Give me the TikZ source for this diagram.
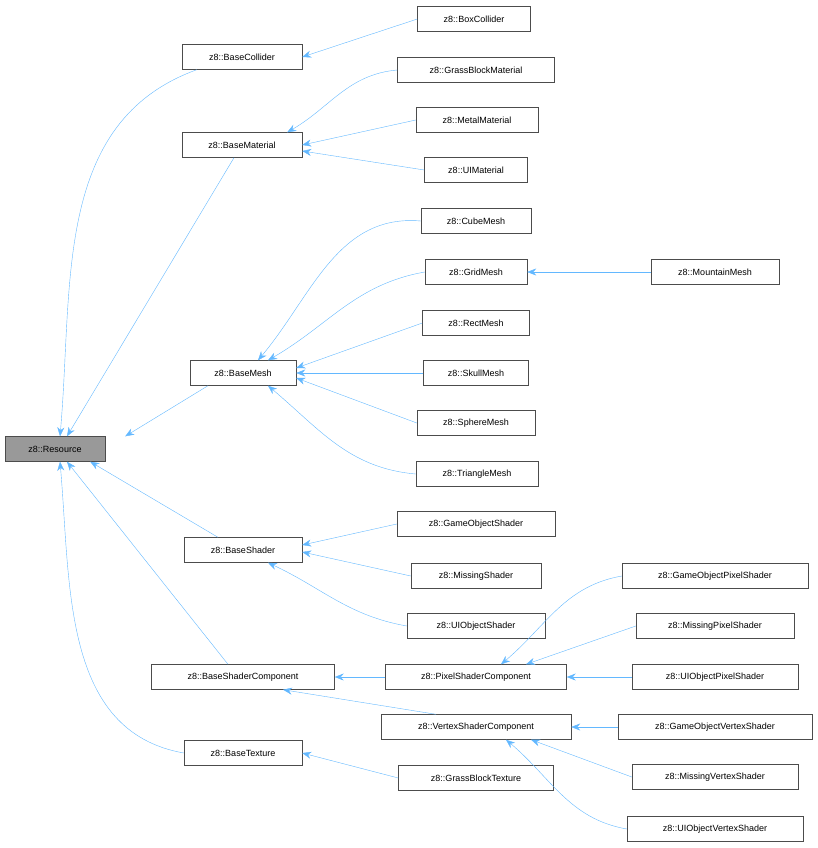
\documentclass[tikz,border=0pt]{standalone}
\usepackage{fontspec}
\setmainfont{Liberation Sans}
\usetikzlibrary{arrows.meta}
\definecolor{edgeblue}{RGB}{99,184,255}
\definecolor{boxgray}{RGB}{153,153,153}

\begin{document}
\begin{tikzpicture}[x=1pt, y=-1pt,
        cls/.style={rectangle, draw=black!70, fill=white, minimum height=25pt, inner xsep=6pt, font=\fontsize{9}{10}\selectfont},
        inh/.style={-{Stealth[length=9pt,width=7pt]}, edgeblue, thin}
    ]
    \useasboundingbox (0,0) rectangle (818,848);
    % root
    \node[cls, fill=boxgray, minimum width=100pt] (resource) at (55,449) {z8::Resource};
    % first level
    \node[cls, minimum width=120pt] (collider) at (242,57) {z8::BaseCollider};
    \node[cls, minimum width=120pt] (material) at (242,145) {z8::BaseMaterial};
    \node[cls, minimum width=106pt] (mesh) at (243,373) {z8::BaseMesh};
    \node[cls, minimum width=118pt] (shader) at (243,550) {z8::BaseShader};
    \node[cls, minimum width=183pt] (shadercomp) at (243,677) {z8::BaseShaderComponent};
    \node[cls, minimum width=118pt] (texture) at (243,753) {z8::BaseTexture};
    % second level
    \node[cls, minimum width=113pt] (boxcol) at (474,19) {z8::BoxCollider};
    \node[cls, minimum width=157pt] (grassmat) at (476,70) {z8::GrassBlockMaterial};
    \node[cls, minimum width=122pt] (metalmat) at (477,120) {z8::MetalMaterial};
    \node[cls, minimum width=103pt] (uimat) at (476,170) {z8::UIMaterial};
    \node[cls, minimum width=110pt] (cube) at (476,221) {z8::CubeMesh};
    \node[cls, minimum width=102pt] (grid) at (476,272) {z8::GridMesh};
    \node[cls, minimum width=107pt] (rect) at (476,323) {z8::RectMesh};
    \node[cls, minimum width=105pt] (skull) at (476,373) {z8::SkullMesh};
    \node[cls, minimum width=118pt] (sphere) at (476,423) {z8::SphereMesh};
    \node[cls, minimum width=122pt] (triangle) at (477,474) {z8::TriangleMesh};
    \node[cls, minimum width=158pt] (goshader) at (476,524) {z8::GameObjectShader};
    \node[cls, minimum width=130pt] (missshader) at (476,576) {z8::MissingShader};
    \node[cls, minimum width=138pt] (uishader) at (476,626) {z8::UIObjectShader};
    \node[cls, minimum width=181pt] (pixelcomp) at (476,677) {z8::PixelShaderComponent};
    \node[cls, minimum width=190pt] (vertexcomp) at (476,727) {z8::VertexShaderComponent};
    \node[cls, minimum width=155pt] (grasstex) at (476,778) {z8::GrassBlockTexture};
    % third level
    \node[cls, minimum width=128pt] (mountain) at (715,272) {z8::MountainMesh};
    \node[cls, minimum width=186pt] (gopixel) at (715,576) {z8::GameObjectPixelShader};
    \node[cls, minimum width=158pt] (misspixel) at (715,626) {z8::MissingPixelShader};
    \node[cls, minimum width=166pt] (uipixel) at (715,677) {z8::UIObjectPixelShader};
    \node[cls, minimum width=194pt] (govertex) at (715,727) {z8::GameObjectVertexShader};
    \node[cls, minimum width=166pt] (missvertex) at (715,777) {z8::MissingVertexShader};
    \node[cls, minimum width=176pt] (uivertex) at (715,829) {z8::UIObjectVertexShader};

    % inheritance to root
    \draw[inh] (collider.south west) ++(15,0) to[out=200,in=85] ([xshift=5pt]resource.north);
    \draw[inh] ([xshift=-8pt]material.south) -- ([xshift=12pt]resource.north);
    \draw[inh] ([xshift=-35pt]mesh.south) -- ([xshift=20pt]resource.north east);
    \draw[inh] ([xshift=-25pt]shader.north) -- ([xshift=-15pt]resource.south east);
    \draw[inh] ([xshift=-15pt]shadercomp.north) -- ([xshift=12pt]resource.south);
    \draw[inh] (texture.west) to[out=170,in=-85] ([xshift=5pt]resource.south);
    % colliders, materials
    \draw[inh] (boxcol.west) -- (collider.east);
    \draw[inh] (grassmat.west) to[out=185,in=30] ([xshift=-15pt]material.north east);
    \draw[inh] (metalmat.west) -- (material.east);
    \draw[inh] (uimat.west) -- ([yshift=-6pt]material.east);
    % meshes
    \draw[inh] (cube.west) to[out=175,in=50] ([xshift=15pt]mesh.north);
    \draw[inh] (grid.west) to[out=190,in=30] ([xshift=25pt]mesh.north);
    \draw[inh] (rect.west) -- ([yshift=5pt]mesh.east);
    \draw[inh] (skull.west) -- (mesh.east);
    \draw[inh] (sphere.west) -- ([yshift=-5pt]mesh.east);
    \draw[inh] (triangle.west) to[out=175,in=-40] ([xshift=25pt]mesh.south);
    \draw[inh] (mountain.west) -- (grid.east);
    % shaders
    \draw[inh] (goshader.west) -- ([yshift=5pt]shader.east);
    \draw[inh] (missshader.west) -- ([yshift=-2pt]shader.east);
    \draw[inh] (uishader.west) to[out=170,in=-25] ([xshift=25pt]shader.south);
    % shader components
    \draw[inh] (pixelcomp.west) -- (shadercomp.east);
    \draw[inh] ([xshift=-40pt]vertexcomp.north) -- ([xshift=40pt]shadercomp.south);
    \draw[inh] (gopixel.west) to[out=190,in=40] ([xshift=25pt]pixelcomp.north);
    \draw[inh] (misspixel.west) -- ([xshift=50pt]pixelcomp.north);
    \draw[inh] (uipixel.west) -- (pixelcomp.east);
    \draw[inh] (govertex.west) -- (vertexcomp.east);
    \draw[inh] (missvertex.west) -- ([xshift=55pt]vertexcomp.south);
    \draw[inh] (uivertex.west) to[out=170,in=-40] ([xshift=30pt]vertexcomp.south);
    % textures
    \draw[inh] (grasstex.west) -- (texture.east);
\end{tikzpicture}
\end{document}
